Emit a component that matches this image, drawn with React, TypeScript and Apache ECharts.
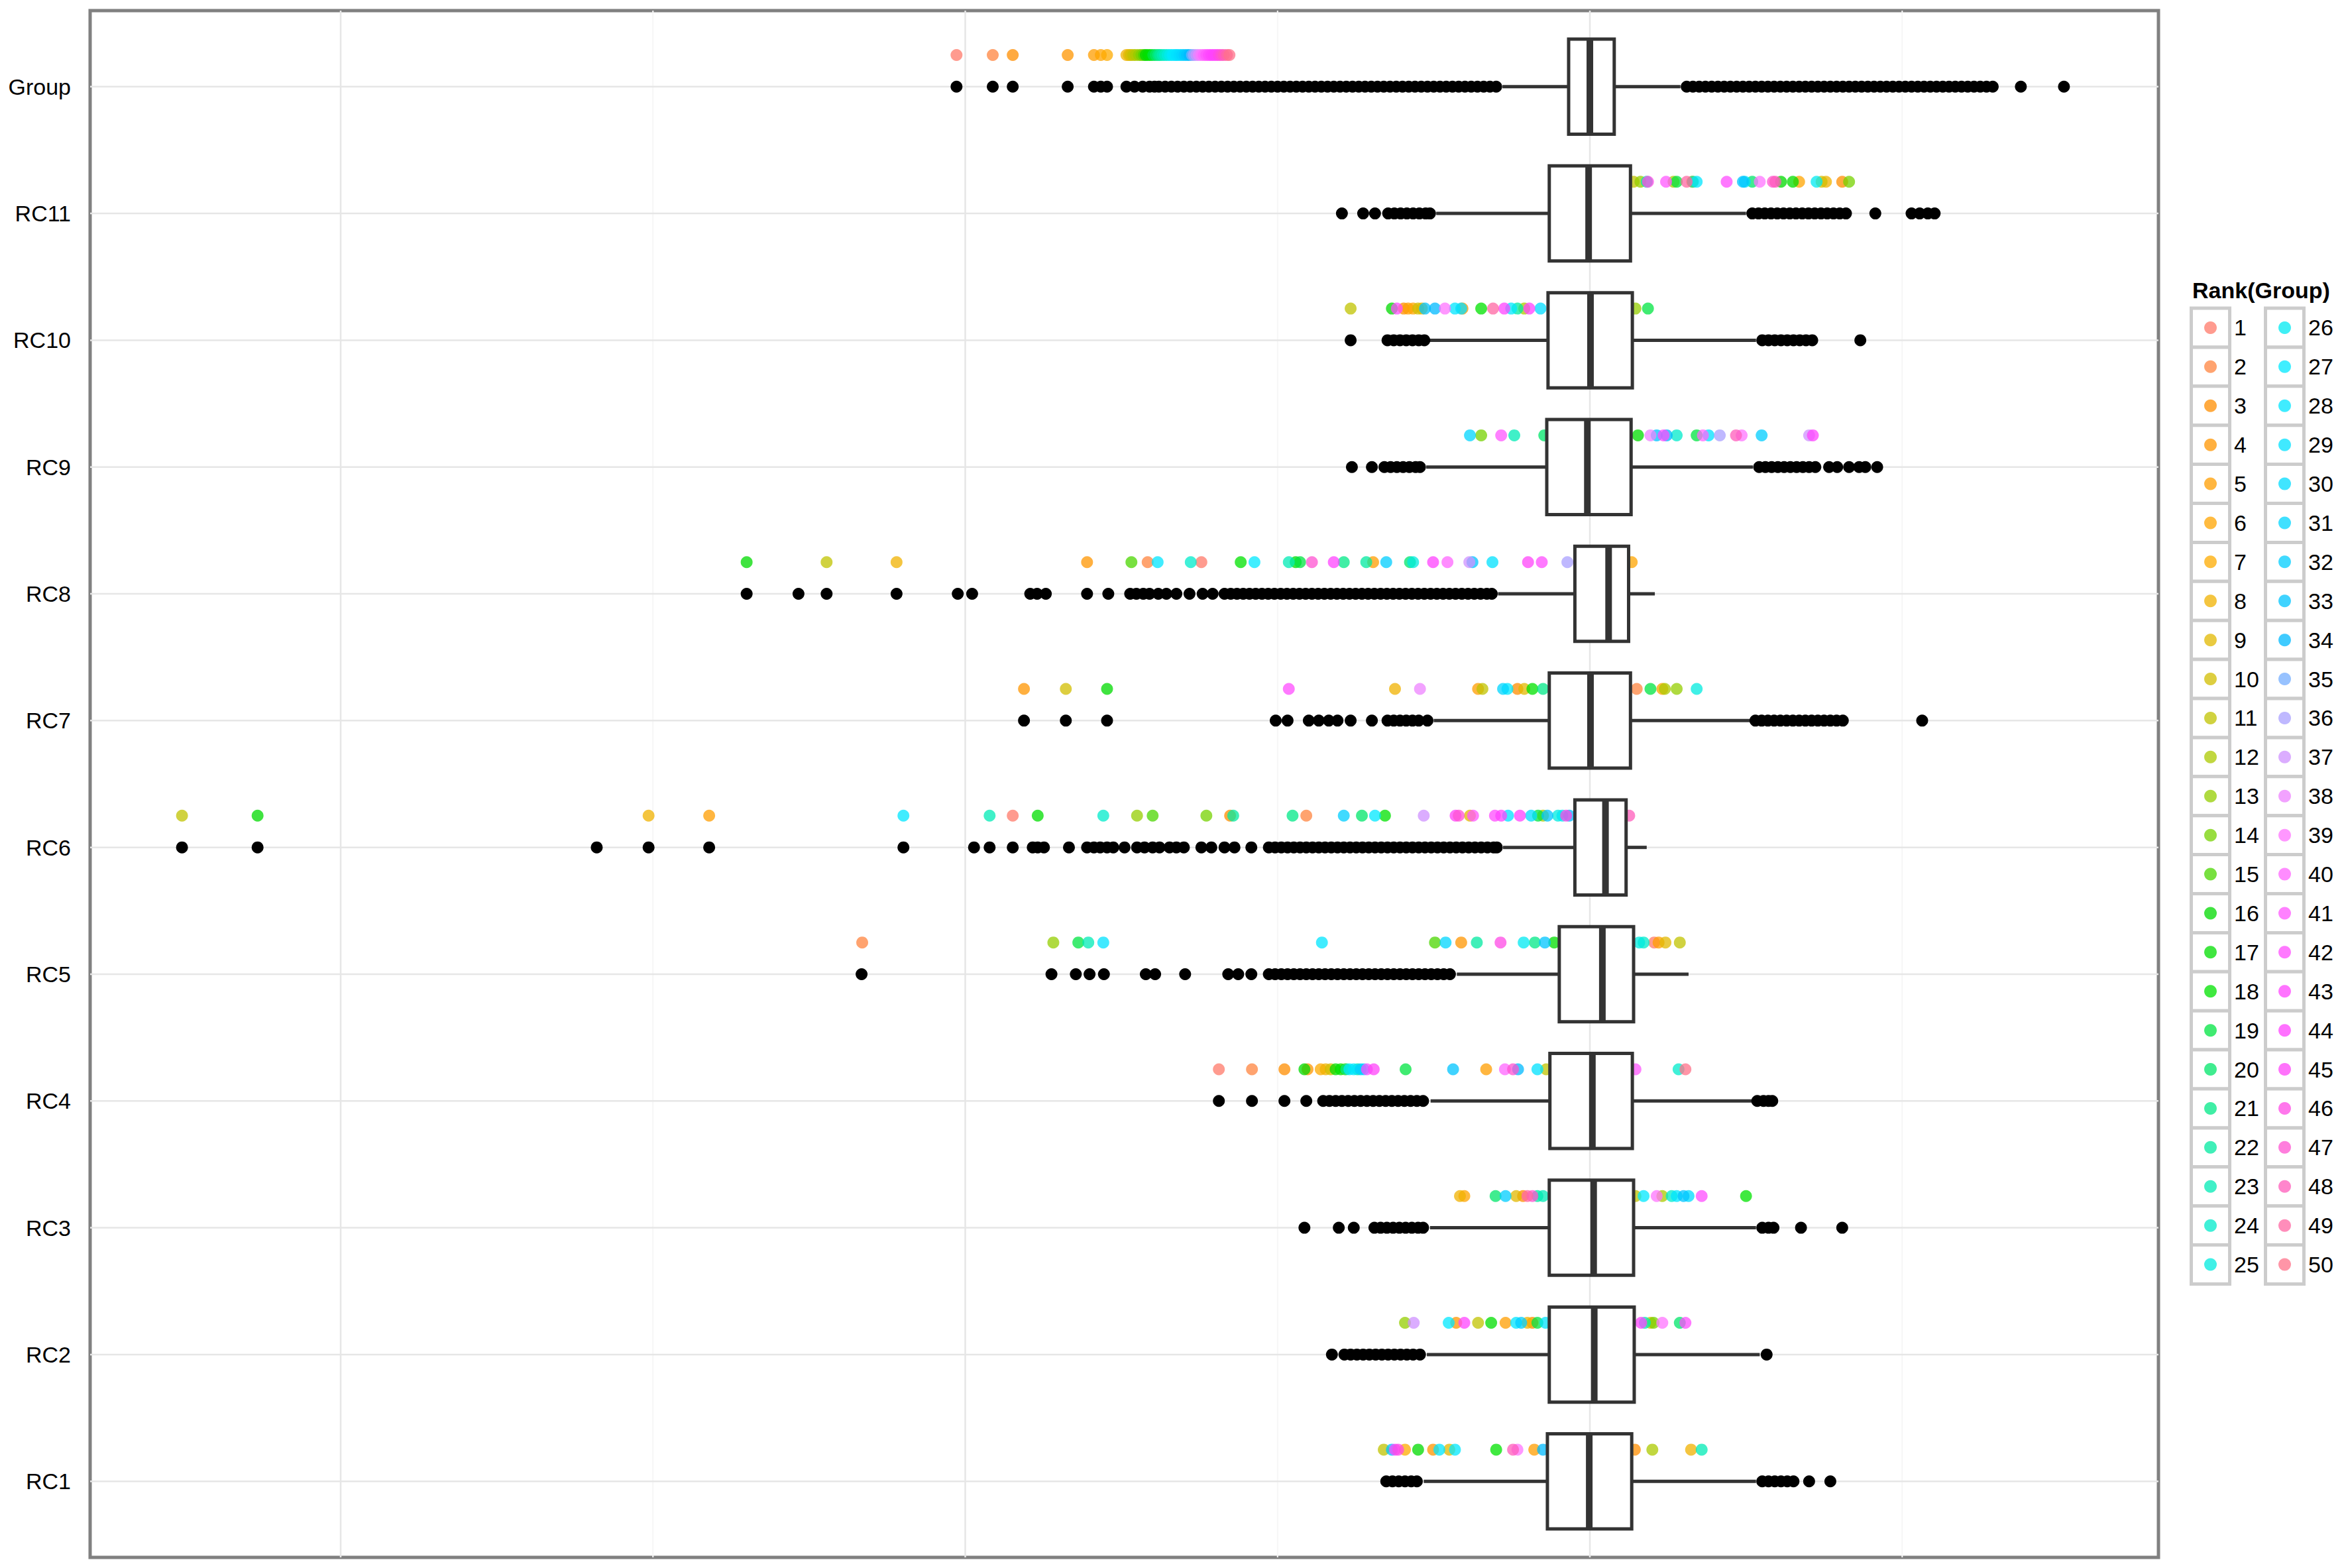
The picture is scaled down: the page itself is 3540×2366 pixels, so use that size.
import React, { useEffect, useRef } from "react";
import * as echarts from "echarts";

// ---------------- DATA ----------------
const categories = ["RC1", "RC2", "RC3", "RC4", "RC5", "RC6", "RC7", "RC8", "RC9", "RC10", "RC11", "Group"];

// box statistics per category (same order as categories)
const boxLow = [-0.266, -0.261, -0.256, -0.255, -0.213, -0.139, -0.25, -0.147, -0.262, -0.256, -0.246, -0.14];
const boxQ1 = [-0.068, -0.065, -0.065, -0.064, -0.049, -0.024, -0.065, -0.024, -0.069, -0.067, -0.065, -0.034];
const boxMedian = [-0.001, 0.007, 0.006, 0.004, 0.02, 0.025, 0.001, 0.03, -0.004, 0.001, -0.002, 0.0];
const boxQ3 = [0.067, 0.071, 0.07, 0.068, 0.07, 0.058, 0.065, 0.062, 0.066, 0.068, 0.065, 0.039];
const boxHigh = [0.266, 0.272, 0.266, 0.259, 0.158, 0.091, 0.256, 0.104, 0.261, 0.266, 0.25, 0.145];

// outliers per category
const outRC1 = [-0.326, -0.316, -0.306, -0.296, -0.286, -0.277, 0.276, 0.286, 0.296, 0.306, 0.316, 0.326, 0.351, 0.385];
const outRC2 = [-0.413, -0.393, -0.383, -0.373, -0.363, -0.353, -0.343, -0.333, -0.323, -0.313, -0.303, -0.293, -0.283, -0.272, 0.283];
const outRC3 = [-0.457, -0.402, -0.378, -0.345, -0.335, -0.325, -0.315, -0.305, -0.295, -0.285, -0.275, -0.267, 0.276, 0.286, 0.294, 0.338, 0.404];
const outRC4 = [-0.594, -0.541, -0.489, -0.454, -0.427, -0.417, -0.407, -0.397, -0.387, -0.377, -0.367, -0.357, -0.347, -0.337, -0.327, -0.317, -0.307, -0.297, -0.287, -0.277, -0.267, 0.268, 0.278, 0.286, 0.292];
const outRC5 = [-1.166, -0.862, -0.823, -0.801, -0.778, -0.711, -0.696, -0.648, -0.579, -0.563, -0.542,
  -0.514, -0.504, -0.494, -0.484, -0.474, -0.464, -0.454, -0.444, -0.434, -0.424, -0.414, -0.404, -0.394, -0.384, -0.374,
  -0.364, -0.354, -0.344, -0.334, -0.324, -0.314, -0.304, -0.294, -0.284, -0.274, -0.264, -0.254, -0.244, -0.234, -0.224];
const outRC6 = [-2.254, -2.133, -1.59, -1.507, -1.41, -1.099, -0.986, -0.961, -0.924, -0.892, -0.884, -0.874, -0.834, -0.805,
  -0.794, -0.784, -0.773, -0.763, -0.745, -0.725, -0.713, -0.7, -0.689, -0.673, -0.662, -0.65, -0.622, -0.606, -0.585, -0.569, -0.542,
  -0.514, -0.504, -0.494, -0.484, -0.474, -0.464, -0.454, -0.444, -0.434, -0.424, -0.414, -0.404, -0.394, -0.384, -0.374, -0.364,
  -0.354, -0.344, -0.334, -0.324, -0.314, -0.304, -0.294, -0.284, -0.274, -0.264, -0.254, -0.244, -0.234, -0.224, -0.214, -0.204,
  -0.194, -0.184, -0.174, -0.164, -0.154, -0.149];
const outRC7 = [-0.906, -0.839, -0.773, -0.503, -0.484, -0.45, -0.434, -0.418, -0.404, -0.383, -0.349, -0.324, -0.314, -0.304,
  -0.294, -0.284, -0.274, -0.26, 0.265, 0.275, 0.285, 0.295, 0.305, 0.315, 0.325, 0.335, 0.345, 0.355, 0.365, 0.375, 0.385, 0.395, 0.405, 0.532];
const outRC8 = [-1.35, -1.267, -1.222, -1.11, -1.012, -0.989, -0.896, -0.885, -0.871, -0.805, -0.771, -0.736, -0.726, -0.715,
  -0.705, -0.691, -0.678, -0.662, -0.641, -0.62, -0.604,
  -0.585, -0.575, -0.565, -0.555, -0.545, -0.535, -0.525, -0.515, -0.505, -0.495, -0.485, -0.475, -0.465, -0.455, -0.445, -0.435,
  -0.425, -0.415, -0.405, -0.395, -0.385, -0.375, -0.365, -0.355, -0.345, -0.335, -0.325, -0.315, -0.305, -0.295, -0.285, -0.275,
  -0.265, -0.255, -0.245, -0.235, -0.225, -0.215, -0.205, -0.195, -0.185, -0.175, -0.165, -0.157];
const outRC9 = [-0.381, -0.349, -0.329, -0.319, -0.309, -0.299, -0.289, -0.279, -0.272, 0.271, 0.281, 0.291, 0.301, 0.311, 0.321,
  0.331, 0.341, 0.351, 0.361, 0.383, 0.396, 0.415, 0.431, 0.441, 0.46];
const outRC10 = [-0.383, -0.324, -0.314, -0.304, -0.294, -0.284, -0.274, -0.265, 0.276, 0.286, 0.296, 0.306, 0.316, 0.326, 0.336, 0.346, 0.356, 0.433];
const outRC11 = [-0.397, -0.363, -0.344, -0.323, -0.313, -0.303, -0.293, -0.283, -0.273, -0.263, -0.256, 0.26, 0.27, 0.28, 0.29,
  0.3, 0.31, 0.32, 0.33, 0.34, 0.35, 0.36, 0.37, 0.38, 0.39, 0.4, 0.41, 0.457, 0.515, 0.528, 0.541, 0.552];
const outGroup = [-1.014, -0.956, -0.924, -0.836, -0.794, -0.783, -0.773, -0.742, -0.729, -0.716, -0.705, -0.697,
  -0.69, -0.68, -0.67, -0.66, -0.65, -0.64, -0.63, -0.62, -0.61, -0.6, -0.59, -0.58, -0.57, -0.56, -0.55, -0.54, -0.53, -0.52,
  -0.51, -0.5, -0.49, -0.48, -0.47, -0.46, -0.45, -0.44, -0.43, -0.42, -0.41, -0.4, -0.39, -0.38, -0.37, -0.36, -0.35, -0.34,
  -0.33, -0.32, -0.31, -0.3, -0.29, -0.28, -0.27, -0.26, -0.25, -0.24, -0.23, -0.22, -0.21, -0.2, -0.19, -0.18, -0.17, -0.16, -0.15,
  0.155, 0.165, 0.175, 0.185, 0.195, 0.205, 0.215, 0.225, 0.235, 0.245, 0.255, 0.265, 0.275, 0.285, 0.295, 0.305, 0.315, 0.325,
  0.335, 0.345, 0.355, 0.365, 0.375, 0.385, 0.395, 0.405, 0.415, 0.425, 0.435, 0.445, 0.455, 0.465, 0.475, 0.485, 0.495, 0.505,
  0.515, 0.525, 0.535, 0.545, 0.555, 0.565, 0.575, 0.585, 0.595, 0.605, 0.615, 0.625, 0.635, 0.645, 0.69, 0.759];

// value of each of the 50 Group-ranked items (rank 1..50) in each category
const rankRC1 = [0.0, 0.03, 0.072, -0.251, -0.089, -0.03, -0.296, 0.162, -0.225, 0.04, -0.33, 0.1, -0.04, 0.02, -0.02, -0.275, 0.05,
  -0.15, -0.05, 0.01, -0.01, 0.045, 0.179, -0.045, 0.035, -0.035, -0.216, -0.241, 0.025, -0.025, 0.015, -0.015, -0.317, -0.075,
  0.005, -0.005, 0.055, 0.012, -0.116, -0.012, 0.022, -0.022, -0.312, 0.032, -0.032, -0.307, 0.042, -0.123, -0.042, 0.052];
const rankRC2 = [0.01, -0.02, -0.092, -0.214, -0.135, 0.03, -0.04, -0.1, 0.04, 0.097, -0.179, 0.0, -0.296, 0.102, -0.01, 0.05,
  -0.158, -0.03, -0.084, 0.144, 0.02, -0.05, 0.088, 0.045, -0.045, 0.035, -0.226, -0.118, -0.071, -0.035, 0.025, -0.11, -0.025,
  0.015, -0.015, 0.005, -0.282, -0.005, 0.116, 0.055, 0.012, 0.153, -0.201, 0.082, -0.012, 0.022, -0.022, 0.032, -0.032, 0.042];
const rankRC3 = [0.0, -0.03, -0.107, 0.03, -0.01, -0.201, 0.04, -0.208, -0.118, -0.04, 0.073, 0.116, 0.02, -0.02, 0.05, -0.05, 0.01,
  0.25, 0.045, -0.151, -0.045, -0.084, -0.075, 0.131, 0.035, -0.035, 0.086, 0.139, 0.025, 0.158, -0.025, -0.135, 0.15, 0.015,
  -0.015, 0.005, -0.005, 0.055, 0.107, 0.012, -0.012, 0.179, 0.022, -0.022, 0.032, -0.032, -0.092, 0.042, -0.1, -0.042];
const rankRC4 = [-0.594, -0.541, -0.489, -0.452, -0.166, 0.0, -0.431, -0.423, 0.03, -0.415, -0.07, -0.392, -0.02, 0.04, -0.04,
  -0.457, -0.407, -0.399, -0.295, 0.01, -0.39, -0.372, -0.01, 0.142, 0.05, -0.03, -0.385, -0.378, -0.084, -0.362, 0.02, -0.367,
  -0.219, -0.115, 0.045, -0.045, 0.035, -0.025, 0.025, -0.136, 0.073, -0.357, 0.015, -0.015, -0.346, 0.005, -0.123, -0.005, 0.052, 0.153];
const rankRC5 = [0.103, -1.165, 0.0, -0.206, 0.11, 0.02, -0.02, 0.04, 0.121, -0.03, 0.144, 0.05, -0.859, 0.01, -0.248, 0.03, -0.057,
  -0.01, -0.819, 0.045, -0.088, -0.181, -0.803, 0.086, 0.079, -0.106, 0.015, -0.429, -0.779, 0.035, -0.231, -0.025, -0.072, 0.025,
  -0.015, 0.005, 0.055, -0.005, 0.012, -0.035, 0.022, 0.032, -0.012, 0.042, 0.052, -0.143, 0.018, 0.028, 0.008, 0.038];
const rankRC6 = [-0.924, -0.454, -0.576, 0.0, -1.41, 0.02, 0.04, -1.507, -0.192, -0.01, -2.254, -0.075, -0.725, -0.614, -0.7,
  -2.133, -0.884, -0.328, -0.083, -0.365, -0.476, -0.571, -0.961, -0.779, -0.051, -0.044, -0.344, -1.099, -0.131, -0.094, 0.01,
  -0.394, -0.068, -0.033, 0.03, 0.005, -0.266, 0.025, 0.015, 0.035, -0.187, -0.152, -0.142, -0.112, -0.215, -0.038, -0.21, 0.063, 0.045, -0.005];
const rankRC7 = [0.01, 0.075, -0.116, -0.906, -0.179, 0.116, -0.03, -0.312, -0.105, -0.839, -0.172, 0.12, 0.139, 0.03, -0.01,
  -0.773, 0.04, -0.092, 0.097, -0.04, -0.075, 0.02, -0.02, 0.05, 0.171, -0.05, -0.132, 0.0, 0.045, -0.045, -0.139, 0.035, -0.035,
  0.025, -0.025, 0.015, -0.015, -0.272, 0.005, -0.005, 0.042, -0.482, -0.042, 0.032, -0.032, 0.022, -0.022, 0.012, -0.012, 0.002];
const rankRC8 = [-0.622, -0.708, 0.0, -0.805, -0.347, 0.067, 0.02, -1.11, 0.04, -0.01, -1.222, 0.01, 0.03, 0.045, -0.734, -1.35,
  -0.471, -0.559, -0.464, -0.288, -0.394, -0.358, -0.482, -0.639, -0.283, 0.005, -0.537, -0.692, -0.156, 0.025, 0.015, -0.326,
  -0.188, 0.035, -0.005, -0.036, -0.193, 0.012, 0.022, -0.228, 0.032, -0.077, -0.41, -0.251, -0.099, 0.042, -0.445, 0.008, 0.028, 0.018];
const rankRC9 = [0.01, -0.03, 0.04, -0.01, 0.02, -0.04, 0.03, -0.02, 0.0, -0.05, 0.05, -0.035, 0.025, -0.174, 0.015, -0.025, 0.077,
  0.035, 0.171, -0.073, -0.015, 0.045, -0.121, 0.139, -0.045, 0.005, -0.005, 0.012, 0.19, -0.012, -0.192, 0.275, 0.107, 0.123,
  0.022, 0.208, 0.351, 0.097, 0.243, 0.181, -0.142, 0.118, 0.357, -0.022, 0.032, -0.032, 0.042, 0.234, -0.042, 0.002];
const rankRC10 = [-0.03, 0.02, -0.298, -0.204, -0.291, -0.283, 0.04, -0.269, -0.01, -0.275, -0.383, -0.105, 0.073, 0.01, -0.04,
  -0.317, 0.03, -0.174, 0.093, -0.02, 0.05, -0.116, 0.0, -0.05, 0.045, -0.035, -0.126, -0.216, -0.206, -0.079, 0.015, -0.015,
  -0.264, -0.248, 0.035, -0.025, 0.025, -0.045, -0.232, 0.005, -0.005, -0.309, -0.137, -0.097, 0.012, -0.012, 0.022, -0.022, -0.155, 0.032];
const rankRC11 = [-0.02, 0.01, 0.404, 0.164, -0.04, 0.335, 0.03, 0.378, -0.01, 0.371, 0.07, 0.134, 0.081, 0.415, 0.04, 0.306,
  0.325, -0.03, 0.139, 0.26, 0.02, 0.165, 0.091, -0.05, 0.0, 0.363, 0.05, 0.171, -0.045, 0.248, 0.015, -0.025, 0.245, 0.035,
  -0.015, 0.045, -0.035, 0.025, 0.272, -0.005, 0.122, 0.219, 0.005, -0.052, 0.052, 0.093, 0.293, 0.297, 0.155, 0.012];
const rankGroup = [-1.014, -0.956, -0.924, -0.836, -0.794, -0.783, -0.773, -0.742, -0.738, -0.735, -0.731, -0.727, -0.722,
  -0.718, -0.714, -0.711, -0.707, -0.703, -0.699, -0.695, -0.691, -0.688, -0.684, -0.68, -0.676, -0.672, -0.668, -0.664, -0.661,
  -0.657, -0.653, -0.649, -0.645, -0.641, -0.637, -0.634, -0.63, -0.626, -0.622, -0.618, -0.614, -0.61, -0.606, -0.602, -0.598,
  -0.594, -0.59, -0.586, -0.581, -0.577];

const majorBreaks = [-2, -1, 0];
const minorBreaks = [-1.5, -0.5, 0.5];
const legendTitle = "Rank(Group)";
const rankLabels = Array.from({ length: 50 }, (_, i) => String(i + 1));

const outlierRows = [outRC1, outRC2, outRC3, outRC4, outRC5, outRC6, outRC7, outRC8, outRC9, outRC10, outRC11, outGroup];
const rankRows = [rankRC1, rankRC2, rankRC3, rankRC4, rankRC5, rankRC6, rankRC7, rankRC8, rankRC9, rankRC10, rankRC11, rankGroup];

// ---------------- STYLE HELPERS ----------------
// R's hcl() -> sRGB (clamped), as used by ggplot2's hue scale
function hcl(h: number, c: number, l: number): string {
  const WHITE_Y = 100.0, WHITE_u = 0.1978398, WHITE_v = 0.4683363;
  const hr = (h * Math.PI) / 180;
  const L = l, U = c * Math.cos(hr), V = c * Math.sin(hr);
  const Y = WHITE_Y * (L > 7.999592 ? Math.pow((L + 16) / 116, 3) : L / 903.3);
  const u = U / (13 * L) + WHITE_u;
  const v = V / (13 * L) + WHITE_v;
  const X = (9.0 * Y * u) / (4 * v);
  const Z = -X / 3 - 5 * Y + (3 * Y) / v;
  const g = (t: number) => (t > 0.00304 ? 1.055 * Math.pow(t, 1 / 2.4) - 0.055 : 12.92 * t);
  const cl = (t: number) => Math.round(255 * Math.min(1, Math.max(0, t)));
  const R = g((3.240479 * X - 1.53715 * Y - 0.498535 * Z) / WHITE_Y);
  const G = g((-0.969256 * X + 1.875992 * Y + 0.041556 * Z) / WHITE_Y);
  const B = g((0.055648 * X - 0.204043 * Y + 1.057311 * Z) / WHITE_Y);
  return `rgb(${cl(R)},${cl(G)},${cl(B)})`;
}
const N_RANK = 50;
const palette = Array.from({ length: N_RANK }, (_, i) => hcl((15 + (360 / N_RANK) * i) % 360, 150, 75));
const POINT_ALPHA = 0.75;
const FONT = "'Liberation Sans', Arial, Helvetica, sans-serif";

export default function App() {
  const ref = useRef<HTMLDivElement>(null);
  useEffect(() => {
    document.body.style.margin = "0";
    if (!ref.current) return;
    const chart = echarts.init(ref.current, undefined, { renderer: "svg" });

    const X_MIN = -2.4011, X_MAX = 0.9103, Y_MIN = 0.4, Y_MAX = 12.6;

    const outlierData = outlierRows.flatMap((arr, i) => arr.map((v) => [v, i + 1]));
    const highlightData = rankRows.flatMap((arr, i) =>
      arr.map((v, r) => ({ value: [v, i + 1 + 0.25, r + 1], itemStyle: { color: palette[r], opacity: POINT_ALPHA } }))
    );
    const vGrid = [...majorBreaks.map((b) => [b, 1]), ...minorBreaks.map((b) => [b, 0])];
    const hGrid = categories.map((_, i) => [i + 1]);
    const boxData = categories.map((_, i) => [i + 1, boxLow[i], boxQ1[i], boxMedian[i], boxQ3[i], boxHigh[i]]);

    // legend graphic
    const legendEls: any[] = [];
    legendEls.push({
      type: "text", x: 3308, y: 438,
      style: { text: legendTitle, fontFamily: FONT, fontSize: 34, fontWeight: "bold", fill: "#000", verticalAlign: "middle", align: "left" },
    });
    const keyTop = 465, keyH = 58.9, keyW = 58;
    const keyX = [3306.5, 3418.5];
    const labX = [3371, 3483];
    for (let r = 0; r < N_RANK; r++) {
      const col = r < 25 ? 0 : 1;
      const row = r % 25;
      const y = keyTop + row * keyH;
      legendEls.push({
        type: "rect", shape: { x: keyX[col], y, width: keyW, height: keyH },
        style: { fill: "#ffffff", stroke: "#cccccc", lineWidth: 5 },
      });
    }
    for (let r = 0; r < N_RANK; r++) {
      const col = r < 25 ? 0 : 1;
      const row = r % 25;
      const cy = keyTop + row * keyH + keyH / 2;
      legendEls.push({
        type: "circle", shape: { cx: keyX[col] + keyW / 2, cy, r: 9.5 },
        style: { fill: palette[r], opacity: POINT_ALPHA },
      });
      legendEls.push({
        type: "text", x: labX[col], y: cy,
        style: { text: rankLabels[r], fontFamily: FONT, fontSize: 34, fill: "#000", verticalAlign: "middle", align: "left" },
      });
    }

    chart.setOption({
      animation: false,
      backgroundColor: "#ffffff",
      grid: { left: 136, top: 16, width: 3121, height: 2334, show: true, borderColor: "#808080", borderWidth: 5, backgroundColor: "transparent" },
      xAxis: {
        type: "value", min: X_MIN, max: X_MAX,
        axisLine: { show: false }, axisTick: { show: false }, axisLabel: { show: false }, splitLine: { show: false },
      },
      yAxis: {
        type: "value", min: Y_MIN, max: Y_MAX,
        axisLine: { show: false }, axisTick: { show: false }, splitLine: { show: false },
        axisLabel: {
          customValues: categories.map((_, i) => i + 1),
          formatter: (v: number) => categories[Math.round(v) - 1] ?? "",
          fontSize: 34, fontFamily: FONT, color: "#000", margin: 29,
        },
      },
      graphic: legendEls,
      series: [
        {
          type: "custom", name: "vgrid", z: 0, silent: true, data: vGrid,
          renderItem: (_p: any, api: any) => {
            const x = api.value(0);
            const major = api.value(1) === 1;
            const a = api.coord([x, Y_MIN]);
            const b = api.coord([x, Y_MAX]);
            return { type: "line", shape: { x1: a[0], y1: a[1], x2: b[0], y2: b[1] },
              style: { stroke: major ? "#e6e6e6" : "#f6f6f6", lineWidth: major ? 2.5 : 2 } };
          },
        },
        {
          type: "custom", name: "hgrid", z: 0, silent: true, data: hGrid,
          renderItem: (_p: any, api: any) => {
            const y = api.value(0);
            const a = api.coord([X_MIN, y]);
            const b = api.coord([X_MAX, y]);
            return { type: "line", shape: { x1: a[0], y1: a[1], x2: b[0], y2: b[1] },
              style: { stroke: "#e6e6e6", lineWidth: 2.5 } };
          },
        },
        {
          type: "scatter", name: "rank", z: 2, silent: true, symbol: "circle", symbolSize: 18,
          progressive: 0, large: false, data: highlightData,
        },
        {
          type: "custom", name: "box", z: 3, silent: true, data: boxData,
          renderItem: (_p: any, api: any) => {
            const y = api.value(0);
            const lo = api.coord([api.value(1), y]);
            const q1 = api.coord([api.value(2), y]);
            const md = api.coord([api.value(3), y]);
            const q3 = api.coord([api.value(4), y]);
            const hi = api.coord([api.value(5), y]);
            const top = api.coord([api.value(2), y + 0.375])[1];
            const bot = api.coord([api.value(2), y - 0.375])[1];
            const ls = { stroke: "#333333", lineWidth: 5 };
            return {
              type: "group",
              children: [
                { type: "line", shape: { x1: lo[0], y1: lo[1], x2: q1[0], y2: q1[1] }, style: ls },
                { type: "line", shape: { x1: q3[0], y1: q3[1], x2: hi[0], y2: hi[1] }, style: ls },
                { type: "rect", shape: { x: q1[0], y: top, width: q3[0] - q1[0], height: bot - top },
                  style: { fill: "#ffffff", stroke: "#333333", lineWidth: 5 } },
                { type: "line", shape: { x1: md[0], y1: top, x2: md[0], y2: bot }, style: { stroke: "#333333", lineWidth: 10 } },
              ],
            };
          },
        },
        {
          type: "scatter", name: "outliers", z: 4, silent: true, symbol: "circle", symbolSize: 18,
          progressive: 0, large: false, itemStyle: { color: "#000000", opacity: 1 }, data: outlierData,
        },
      ],
    });
    return () => chart.dispose();
  }, []);
  return <div ref={ref} style={{ width: 3540, height: 2366, position: "absolute", left: 0, top: 0 }} />;
}
